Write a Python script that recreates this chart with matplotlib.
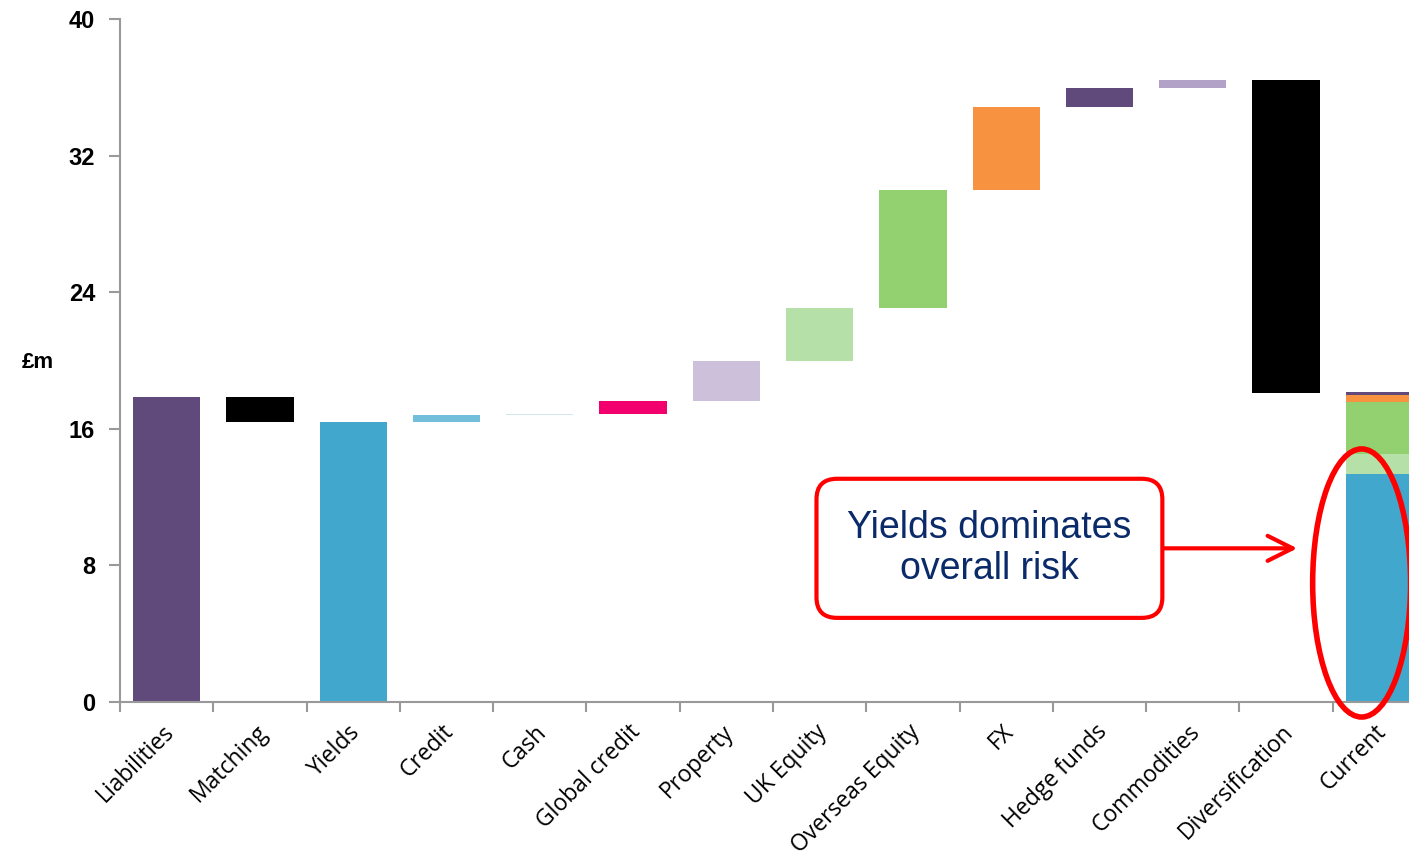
import matplotlib.pyplot as plt
from matplotlib.patches import Ellipse

# risk attribution, £m
categories = ['Liabilities', 'Matching', 'Yields', 'Credit', 'Cash', 'Global credit',
              'Property', 'UK Equity', 'Overseas Equity', 'FX', 'Hedge funds',
              'Commodities', 'Diversification']
steps = [17.86, -1.46, 16.40, 0.41, 0.05, 0.79, 2.30, 3.15, 6.90, 4.85, 1.10, 0.50, -18.35]
is_total = [True, False, True, False, False, False, False, False, False, False, False, False, False]
colors = ['#604A7B', '#000000', '#41A7CC', '#72BEDB', '#D3E6E9', '#F2006E',
          '#CCC0DA', '#B5E0A8', '#93D070', '#F79241', '#604A7B', '#B3A2C7', '#000000']

# breakdown of the current position
current_parts = ['Yields', 'UK Equity', 'Overseas Equity', 'FX', 'Hedge funds']
current_values = [13.35, 1.20, 3.00, 0.45, 0.15]
current_colors = ['#41A7CC', '#B5E0A8', '#93D070', '#F79241', '#604A7B']

yticks = [0, 8, 16, 24, 32, 40]

fig = plt.figure(figsize=(14.09, 8.55), dpi=100)
ax = fig.add_axes([120/1409, 153/855, 1306/1409, 683/855])

bar_w = 0.72
level = 0
for i, (v, tot) in enumerate(zip(steps, is_total)):
    if tot:
        bottom, height = 0, v
        level = v
    else:
        bottom = level if v >= 0 else level + v
        height = abs(v)
        level += v
    ax.bar(i, height, bottom=bottom, width=bar_w, color=colors[i], linewidth=0)

base = 0
for v, c in zip(current_values, current_colors):
    ax.bar(13, v, bottom=base, width=bar_w, color=c, linewidth=0)
    base += v

labels = categories + ['Current']
ax.set_xlim(-0.5, 13.5)
ax.set_ylim(0, 40)
ax.set_yticks(yticks)
ax.set_yticklabels([str(t) for t in yticks], fontsize=17, fontweight='bold',
                   family='Liberation Sans')
ax.set_xticks([i - 0.05 for i in range(len(labels))])
ax.set_xticklabels(labels, rotation=45, ha='right', rotation_mode='anchor',
                   fontsize=16.5, family='Open Sans')
ax.set_xticks([i - 0.5 for i in range(len(labels) + 1)], minor=True)
ax.tick_params(axis='x', which='major', length=0, pad=13)
ax.tick_params(axis='x', which='minor', length=7, width=1.5, color='#999999', direction='out')
ax.tick_params(axis='y', length=8, width=1.5, color='#999999', pad=10)

for s in ['top', 'right']:
    ax.spines[s].set_visible(False)
for s in ['left', 'bottom']:
    ax.spines[s].set_color('#999999')
    ax.spines[s].set_linewidth(1.5)

fig.text(38/1409, 1 - 362/855, '£m', fontsize=16, fontweight='bold',
         family='Liberation Sans', ha='center', va='center')

# callout
ax.text(8.82, 9.0, 'Yields dominates\noverall risk', fontsize=27, color='#0B2A6A',
        family='Liberation Sans', ha='center', va='center', linespacing=1.2,
        bbox=dict(boxstyle='round,pad=0.82,rounding_size=0.55', fc='white',
                  ec='#FF0000', lw=3))
ax.annotate('', xy=(12.12, 9.0), xytext=(10.68, 9.0),
            arrowprops=dict(arrowstyle='->,head_length=0.9,head_width=0.45',
                            color='#FF0000', lw=3, mutation_scale=20,
                            shrinkA=0, shrinkB=0))
ax.add_patch(Ellipse((12.81, 6.97), 1.05, 15.7, fill=False, ec='#FF0000', lw=4,
                     clip_on=False, zorder=5))

fig.savefig('out.png', dpi=100)
